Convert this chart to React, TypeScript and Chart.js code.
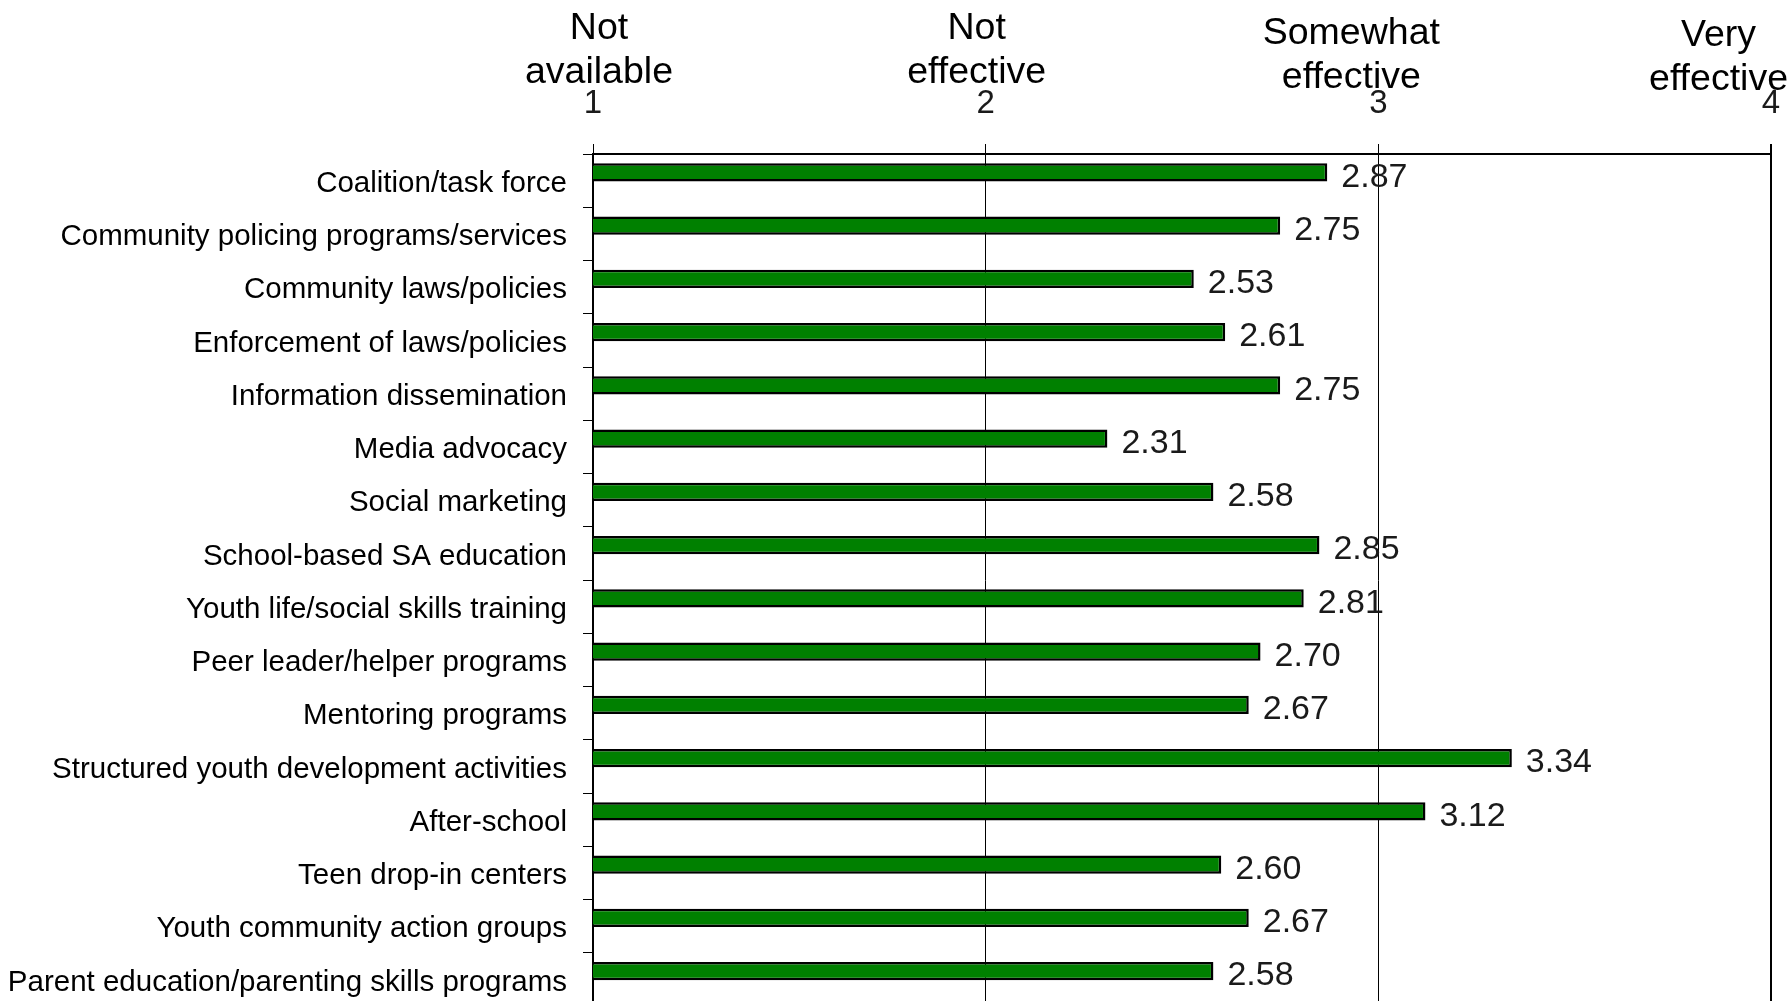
import React, { useEffect, useRef } from "react";
import { Chart, registerables } from "chart.js";

Chart.register(...registerables);

const categories = [
  "Coalition/task force",
  "Community policing programs/services",
  "Community laws/policies",
  "Enforcement of laws/policies",
  "Information dissemination",
  "Media advocacy",
  "Social marketing",
  "School-based SA education",
  "Youth life/social skills training",
  "Peer leader/helper programs",
  "Mentoring programs",
  "Structured youth development activities",
  "After-school",
  "Teen drop-in centers",
  "Youth community action groups",
  "Parent education/parenting skills programs",
];

const meanRatings = [
  2.87, 2.75, 2.53, 2.61, 2.75, 2.31, 2.58, 2.85, 2.81, 2.7, 2.67, 3.34, 3.12, 2.6, 2.67, 2.58,
];

const scaleTicks = [1, 2, 3, 4];

const scaleDescriptors = [
  ["Not", "available"],
  ["Not", "effective"],
  ["Somewhat", "effective"],
  ["Very", "effective"],
];

const FONT = "'Liberation Sans', Arial, sans-serif";
const VIEW_W = 1791;
const VIEW_H = 1001;
const CANVAS_W = 1791;
const CANVAS_H = 1010;

// styling for the descriptor text boxes above the scale numbers
const DESC_LINE_Y = [29, 73];
const DESC_SHIFT_X = [6, -9, -27, 0];
const DESC_SHIFT_Y = [0, 0, 5, 7];

const descriptorPlugin = {
  id: "descriptors",
  afterDraw(chart: any) {
    const { ctx } = chart;
    const xs = chart.scales.x;
    ctx.save();
    ctx.font = `37.5px ${FONT}`;
    ctx.fillStyle = "#000";
    ctx.textAlign = "center";
    ctx.textBaseline = "middle";
    scaleTicks.forEach((v, i) => {
      const lines = scaleDescriptors[i];
      const widest = Math.max(...lines.map((l) => ctx.measureText(l).width));
      let cx = xs.getPixelForValue(v) + DESC_SHIFT_X[i];
      cx = Math.min(cx, VIEW_W - widest / 2 - 3);
      lines.forEach((line, j) => {
        ctx.fillText(line, cx, DESC_LINE_Y[j] + DESC_SHIFT_Y[i]);
      });
    });
    ctx.restore();
  },
};

const valueLabelPlugin = {
  id: "valueLabels",
  afterDatasetsDraw(chart: any) {
    const { ctx } = chart;
    const meta = chart.getDatasetMeta(0);
    ctx.save();
    ctx.font = `34px ${FONT}`;
    ctx.fillStyle = "#1a1a1a";
    ctx.textAlign = "left";
    ctx.textBaseline = "middle";
    meta.data.forEach((bar: any, i: number) => {
      ctx.fillText(meanRatings[i].toFixed(2), bar.x + 14, bar.y + 5);
    });
    ctx.restore();
  },
};

export default function App() {
  const canvasRef = useRef<HTMLCanvasElement | null>(null);

  useEffect(() => {
    const canvas = canvasRef.current;
    if (!canvas) return;
    const chart = new Chart(canvas, {
      type: "bar",
      data: {
        labels: categories,
        datasets: [
          {
            label: "Mean rating",
            data: meanRatings,
            backgroundColor: "#008000",
            borderColor: "#000000",
            borderWidth: 2.5,
            borderSkipped: false,
            categoryPercentage: 0.62,
            barPercentage: 1.1,
          },
          {
            label: "",
            data: categories.map(() => null),
            backgroundColor: "transparent",
            categoryPercentage: 0.62,
            barPercentage: 1.1,
          },
        ],
      },
      options: {
        indexAxis: "y",
        responsive: false,
        animation: false,
        layout: { padding: { top: 0, left: 0, right: 20, bottom: 4 } },
        plugins: {
          legend: { display: false },
          tooltip: { enabled: false },
          title: { display: false },
        },
        scales: {
          x: {
            position: "top",
            min: 1,
            max: 4,
            afterFit: (scale: any) => {
              scale.height = 154;
              scale.paddingLeft = 0;
              scale.paddingRight = 0;
            },
            ticks: {
              stepSize: 1,
              padding: 20,
              color: "#1a1a1a",
              font: { family: FONT, size: 33 },
            },
            grid: {
              color: "#000",
              lineWidth: (ctx: any) => (ctx.tick && ctx.tick.value === 4 ? 2 : 1),
              drawTicks: true,
              tickLength: 10,
              drawOnChartArea: true,
            },
            border: { display: true, color: "#000", width: 2 },
          },
          y: {
            afterFit: (scale: any) => {
              scale.width = 593;
              scale.paddingTop = 0;
              scale.paddingBottom = 0;
            },
            ticks: {
              padding: 16,
              labelOffset: 3,
              color: "#000",
              font: { family: FONT, size: 29.5 },
              autoSkip: false,
            },
            grid: {
              offset: true,
              drawOnChartArea: false,
              drawTicks: true,
              tickLength: 10,
              color: "#000",
              lineWidth: 1,
            },
            border: { display: true, color: "#000", width: 2 },
          },
        },
      },
      plugins: [descriptorPlugin, valueLabelPlugin],
    } as any);
    return () => chart.destroy();
  }, []);

  return (
    <div
      style={{
        position: "fixed",
        left: 0,
        top: 0,
        width: VIEW_W,
        height: VIEW_H,
        overflow: "hidden",
        background: "#fff",
      }}
    >
      <canvas
        ref={canvasRef}
        width={CANVAS_W}
        height={CANVAS_H}
        style={{ display: "block", width: CANVAS_W, height: CANVAS_H }}
      />
    </div>
  );
}
